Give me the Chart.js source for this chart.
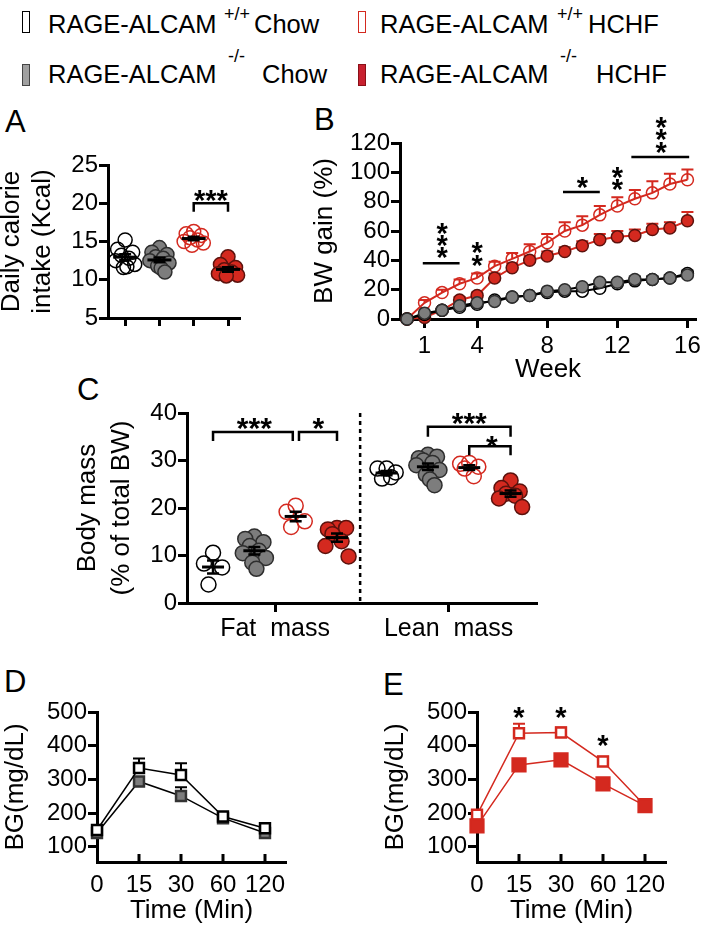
<!DOCTYPE html>
<html>
<head>
<meta charset="utf-8">
<script src="https://cdn.jsdelivr.net/npm/chart.js@4.4.1/dist/chart.umd.min.js"></script>
<style>
body { margin: 0; background: #fff; }
#fig { position: relative; width: 705px; height: 926px; overflow: hidden; font-family: "Liberation Sans", Arial, Helvetica, sans-serif; color: #000; }
.c { position: absolute; }
.letter { position: absolute; font-size: 31px; line-height: 1; }
.leg { position: absolute; font-size: 25.5px; line-height: 1; white-space: nowrap; }
.sup { position: absolute; font-size: 18px; line-height: 1; white-space: nowrap; }
.mk { position: absolute; width: 8px; height: 22px; box-sizing: border-box; border: 1.5px solid #000; }
</style>
</head>
<body>
<div id="fig">
  <!-- legend -->
  <div class="mk" style="left:22px;top:11px;background:#fff;border-color:#000"></div>
  <div class="leg" style="left:48px;top:12px">RAGE-ALCAM</div>
  <div class="sup" style="left:224px;top:5px">+/+</div>
  <div class="leg" style="left:254px;top:12px">Chow</div>
  <div class="mk" style="left:22px;top:64px;background:#a0a0a0;border-color:#444"></div>
  <div class="leg" style="left:48px;top:62px">RAGE-ALCAM</div>
  <div class="sup" style="left:228px;top:47px">-/-</div>
  <div class="leg" style="left:262px;top:62px">Chow</div>
  <div class="mk" style="left:358px;top:11px;background:#fff;border-color:#d4291f"></div>
  <div class="leg" style="left:380px;top:12px">RAGE-ALCAM</div>
  <div class="sup" style="left:557px;top:5px">+/+</div>
  <div class="leg" style="left:588px;top:12px">HCHF</div>
  <div class="mk" style="left:358px;top:64px;background:#c8202f;border-color:#8a1018"></div>
  <div class="leg" style="left:380px;top:62px">RAGE-ALCAM</div>
  <div class="sup" style="left:560px;top:47px">-/-</div>
  <div class="leg" style="left:596px;top:62px">HCHF</div>

  <div class="letter" style="left:5px;top:106px">A</div>
  <div class="letter" style="left:314px;top:104px">B</div>
  <div class="letter" style="left:77px;top:374px">C</div>
  <div class="letter" style="left:4px;top:666px">D</div>
  <div class="letter" style="left:383px;top:669px">E</div>

  <canvas id="cA" class="c" width="254" height="210" style="left:-4px;top:140px"></canvas>
  <canvas id="cB" class="c" width="405" height="275" style="left:300px;top:110px"></canvas>
  <canvas id="cC" class="c" width="480" height="272" style="left:70px;top:378px"></canvas>
  <canvas id="cD" class="c" width="300" height="236" style="left:0px;top:690px"></canvas>
  <canvas id="cE" class="c" width="300" height="236" style="left:380px;top:690px"></canvas>
</div>
<script>
// A: daily calorie intake (Kcal), one value per mouse
const intakeWTChow = [15.2, 14.0, 13.6, 13.2, 12.8, 12.5, 12.0, 11.6, 11.7];
const intakeKOChow = [14.2, 13.6, 13.3, 13.0, 12.8, 12.5, 12.2, 11.8, 11.5, 11.0];
const intakeWTHCHF = [16.3, 16.0, 15.8, 15.5, 15.2, 15.0, 14.8, 14.5];
const intakeKOHCHF = [13.0, 12.0, 11.6, 11.3, 11.0, 10.8, 10.6, 10.5];
const intakeTicks = [5, 10, 15, 20, 25];

// B: body weight gain (%) per week
const weeks = [0, 1, 2, 3, 4, 5, 6, 7, 8, 9, 10, 11, 12, 13, 14, 15, 16];
const bwWTChow = [0, 3, 6, 8, 10, 13, 15, 16, 18, 19, 19, 21, 24, 26, 27, 28, 31];
const bwKOChow = [0, 4, 6, 9, 11, 12, 15, 16, 19, 20, 22, 25, 25, 27, 27, 28, 30];
const bwWTHCHF = [0, 11, 18, 24, 28, 36, 41, 46, 52, 60, 64, 71, 77, 82, 86, 92, 95];
const bwKOHCHF = [0, 1, 6, 13, 16, 28, 35, 40, 43, 46, 50, 54, 56, 57, 61, 62, 67];
const bwSemWTChow = [0, 1, 1, 1, 1, 1, 1, 1, 1, 1, 1, 1, 1, 2, 2, 2, 2];
const bwSemKOChow = [0, 1, 1, 1, 1, 1, 1, 1, 1, 1, 1, 1, 1, 2, 2, 2, 2];
const bwSemWTHCHF = [0, 2, 2, 3, 3, 3, 4, 5, 6, 6, 6, 6, 6, 6, 8, 7, 7];
const bwSemKOHCHF = [0, 1, 1, 2, 2, 3, 3, 3, 3, 3, 3, 4, 4, 4, 4, 4, 6];
const weekTicks = [1, 4, 8, 12, 16];
const bwTicks = [0, 20, 40, 60, 80, 100, 120];

// C: body composition (% of total BW)
const fatWTChow = [10.6, 8.3, 7.5, 3.9];
const fatKOChow = [14.0, 13.5, 12.8, 12.0, 11.0, 10.5, 9.5, 8.5, 7.2];
const fatWTHCHF = [20.5, 19.2, 17.2, 16.0];
const fatKOHCHF = [15.8, 15.5, 15.8, 14.5, 13.0, 12.0, 9.8];
const leanWTChow = [28.3, 28.3, 27.5, 26.2, 26.5];
const leanKOChow = [31.2, 30.5, 30.8, 30.0, 29.5, 29.0, 28.0, 27.0, 26.0, 24.8];
const leanWTHCHF = [29.5, 29.3, 28.7, 28.3, 26.7];
const leanKOHCHF = [25.8, 24.2, 23.5, 23.0, 22.6, 22.0, 20.2];
const massTicks = [0, 10, 20, 30, 40];
const massLabels = ['Fat  mass', 'Lean  mass'];

// D, E: glucose tolerance, BG (mg/dL)
const gttTimes = ['0', '15', '30', '60', '120'];
const gttWTChow = [150, 334, 313, 190, 155];
const gttKOChow = [141, 294, 251, 185, 141];
const gttWTHCHF = [195, 437, 439, 353, 222];
const gttKOHCHF = [162, 343, 358, 287, 222];
const gttSemWTChow = [10, 28, 35, 10, 8];
const gttSemKOChow = [8, 10, 26, 8, 8];
const gttSemWTHCHF = [10, 28, 15, 14, 10];
const gttSemKOHCHF = [10, 12, 15, 10, 10];
const bgTicks = [100, 200, 300, 400, 500];

const RED = '#d4291f';
const GRAY = '#7d7d7d';
const FONT = '"Liberation Sans", Arial, Helvetica, sans-serif';

Chart.defaults.font.family = FONT;
Chart.defaults.color = '#000';
Chart.defaults.animation = false;
Chart.defaults.plugins.legend.display = false;
Chart.defaults.plugins.tooltip.enabled = false;

function meanSem(v) {
    const n = v.length;
    const m = v.reduce((a, b) => a + b, 0) / n;
    const sd = Math.sqrt(v.reduce((a, b) => a + (b - m) * (b - m), 0) / (n - 1));
    return [m, sd / Math.sqrt(n)];
}

// spread of the dots around the group centre
const jit = [0, -0.22, 0.22, -0.11, 0.11, -0.28, 0.28, -0.05, 0.05, 0.16];
function swarm(vals, cx) {
    return vals.map((v, i) => ({ x: cx + jit[i % jit.length], y: v }));
}
function series(xs, ys) {
    return ys.map((v, i) => ({ x: xs[i], y: v }));
}

function yAxis(tickVals, min, max, w, title, pad, lh) {
    return {
        type: 'linear', position: 'left', min: min, max: max,
        afterBuildTicks: s => { s.ticks = tickVals.map(v => ({ value: v })); },
        afterFit: s => { s.width = w; },
        border: { color: '#000', width: 3 },
        grid: { drawOnChartArea: false, tickLength: 9, tickWidth: 3, tickColor: '#000' },
        ticks: { font: { size: 24 }, color: '#000', padding: 1, autoSkip: false },
        title: { display: true, text: title, color: '#000', font: { size: 26, lineHeight: lh || 1.2 }, padding: { top: pad, bottom: 0 } }
    };
}

function xAxis(tickVals, labels, min, max, h, opt) {
    opt = opt || {};
    return {
        type: 'linear', position: 'bottom', min: min, max: max,
        afterBuildTicks: s => { s.ticks = tickVals.map(v => ({ value: v })); },
        afterFit: s => { s.height = h; },
        border: { color: '#000', width: 3 },
        grid: { drawOnChartArea: false, drawTicks: opt.drawTicks !== false, tickLength: opt.tickLength || 9, tickWidth: 3, tickColor: '#000' },
        ticks: {
            font: { size: opt.fontSize || 24 }, color: '#000', padding: opt.padding || 4,
            autoSkip: false, maxRotation: 0, minRotation: 0,
            callback: (v, i) => labels ? labels[i] : ''
        },
        title: opt.title ? { display: true, text: opt.title, color: '#000', font: { size: 26 }, padding: { top: 0, bottom: 0 } } : { display: false }
    };
}

function drawStar(ctx, txt, px, py, size) {
    ctx.font = 'bold ' + size + 'px ' + FONT;
    ctx.textAlign = 'center';
    ctx.textBaseline = 'alphabetic';
    ctx.fillText(txt, px, py + 0.6 * size);
}

// error bars, means, brackets and stars drawn through the chart scales
function decor(spec) {
    return {
        id: 'decor',
        beforeDatasetsDraw(chart) {
            const ctx = chart.ctx, x = chart.scales.x, y = chart.scales.y;
            ctx.save();
            if (spec.dashX !== undefined) {
                const px = x.getPixelForValue(spec.dashX);
                ctx.strokeStyle = '#000';
                ctx.lineWidth = 2.5;
                ctx.setLineDash([4, 4]);
                ctx.beginPath();
                ctx.moveTo(px, y.getPixelForValue(y.max));
                ctx.lineTo(px, y.getPixelForValue(y.min));
                ctx.stroke();
                ctx.setLineDash([]);
            }
            (spec.errUp || []).forEach(e => {
                const pts = chart.data.datasets[e.ds].data;
                ctx.strokeStyle = e.color;
                ctx.lineWidth = 2;
                pts.forEach((p, i) => {
                    const s = e.sem[i];
                    if (!s) return;
                    const px = x.getPixelForValue(p.x);
                    const py = y.getPixelForValue(p.y);
                    const pt = y.getPixelForValue(p.y + s);
                    ctx.beginPath();
                    ctx.moveTo(px, py); ctx.lineTo(px, pt);
                    ctx.moveTo(px - e.cap, pt); ctx.lineTo(px + e.cap, pt);
                    ctx.stroke();
                });
            });
            ctx.restore();
        },
        afterDatasetsDraw(chart) {
            const ctx = chart.ctx, x = chart.scales.x, y = chart.scales.y;
            ctx.save();
            ctx.strokeStyle = '#000';
            ctx.fillStyle = '#000';
            (spec.means || []).forEach(g => {
                const ms = meanSem(g.vals);
                const px = x.getPixelForValue(g.x);
                const pm = y.getPixelForValue(ms[0]);
                const p1 = y.getPixelForValue(ms[0] + ms[1]);
                const p2 = y.getPixelForValue(ms[0] - ms[1]);
                ctx.lineWidth = 3;
                ctx.beginPath();
                ctx.moveTo(px - spec.meanW, pm); ctx.lineTo(px + spec.meanW, pm);
                ctx.stroke();
                ctx.lineWidth = 2.5;
                ctx.beginPath();
                ctx.moveTo(px, p1); ctx.lineTo(px, p2);
                ctx.moveTo(px - spec.capW, p1); ctx.lineTo(px + spec.capW, p1);
                ctx.moveTo(px - spec.capW, p2); ctx.lineTo(px + spec.capW, p2);
                ctx.stroke();
            });
            ctx.lineWidth = 2.5;
            (spec.brackets || []).forEach(b => {
                const x1 = x.getPixelForValue(b.x1), x2 = x.getPixelForValue(b.x2);
                const yt = y.getPixelForValue(b.y), yb = y.getPixelForValue(b.y - b.drop);
                ctx.beginPath();
                ctx.moveTo(x1, yb); ctx.lineTo(x1, yt); ctx.lineTo(x2, yt); ctx.lineTo(x2, yb);
                ctx.stroke();
            });
            (spec.bars || []).forEach(b => {
                const yy = y.getPixelForValue(b.y);
                ctx.beginPath();
                ctx.moveTo(x.getPixelForValue(b.x1), yy); ctx.lineTo(x.getPixelForValue(b.x2), yy);
                ctx.stroke();
            });
            (spec.stars || []).forEach(s => {
                drawStar(ctx, s.t || '*', x.getPixelForValue(s.x), y.getPixelForValue(s.y), spec.starSize || 28);
            });
            if (spec.innerTicks) {
                const yb = chart.chartArea.bottom;
                ctx.lineWidth = 3;
                spec.innerTicks.forEach(v => {
                    const px = x.getPixelForValue(v);
                    ctx.beginPath(); ctx.moveTo(px, yb); ctx.lineTo(px, yb - 8); ctx.stroke();
                });
            }
            ctx.restore();
        }
    };
}

const styWTChow = { borderColor: '#000', backgroundColor: 'rgba(255,255,255,0)' };
const styKOChow = { borderColor: '#2e2e2e', backgroundColor: GRAY };
const styWTHCHF = { borderColor: RED, backgroundColor: 'rgba(255,255,255,0)' };
const styKOHCHF = { borderColor: '#5c120d', backgroundColor: RED };

function dots(vals, cx, sty, r) {
    return {
        data: swarm(vals, cx), pointRadius: r, pointBorderWidth: 1.5,
        pointBorderColor: sty.borderColor, pointBackgroundColor: sty.backgroundColor, clip: false
    };
}

// ---------- A ----------
new Chart(document.getElementById('cA'), {
    type: 'scatter',
    data: { datasets: [
        dots(intakeWTChow, 1, styWTChow, 7),
        dots(intakeKOChow, 2, styKOChow, 7),
        dots(intakeWTHCHF, 3, styWTHCHF, 7),
        dots(intakeKOHCHF, 4, styKOHCHF, 7)
    ] },
    options: {
        responsive: false, devicePixelRatio: 1,
        layout: { padding: { top: 25, right: 10, bottom: 0, left: 0 } },
        scales: {
            x: xAxis([1, 2, 3, 4], null, 0.5, 4.35, 32, { tickLength: 8 }),
            y: yAxis(intakeTicks, 5, 25, 112, ['Daily calorie', 'intake (Kcal)'], 0)
        }
    },
    plugins: [decor({
        meanW: 12, capW: 6,
        means: [
            { x: 1, vals: intakeWTChow }, { x: 2, vals: intakeKOChow },
            { x: 3, vals: intakeWTHCHF }, { x: 4, vals: intakeKOHCHF }
        ],
        brackets: [{ x1: 3, x2: 4, y: 20, drop: 1.1 }],
        stars: [{ x: 3.5, y: 21.4, t: '***' }],
        starSize: 29
    })]
});

// ---------- B ----------
function lineDs(vals, sty, lineColor, r, style) {
    return {
        data: series(weeks.length === vals.length ? weeks : [0, 1, 2, 3, 4], vals),
        borderColor: lineColor, borderWidth: 2, tension: 0,
        pointRadius: r, pointBorderWidth: style === 'rect' ? 2.5 : 1.5, pointStyle: style || 'circle',
        pointBorderColor: sty.borderColor, pointBackgroundColor: sty.backgroundColor, clip: false
    };
}

new Chart(document.getElementById('cB'), {
    type: 'line',
    data: { datasets: [
        lineDs(bwKOChow, styKOChow, '#000', 6),
        lineDs(bwWTChow, styWTChow, '#000', 6),
        lineDs(bwKOHCHF, styKOHCHF, RED, 6),
        lineDs(bwWTHCHF, styWTHCHF, RED, 6)
    ] },
    options: {
        responsive: false, devicePixelRatio: 1,
        layout: { padding: { top: 33, right: 4, bottom: 0, left: 0 } },
        scales: {
            x: xAxis(weekTicks, weekTicks.map(String), -0.4, 16.5, 66, { tickLength: 9, padding: 4, title: 'Week' }),
            y: yAxis(bwTicks, 0, 120, 100, 'BW gain (%)', 9)
        }
    },
    plugins: [decor({
        errUp: [
            { ds: 0, sem: bwSemKOChow, color: '#000', cap: 6 },
            { ds: 1, sem: bwSemWTChow, color: '#000', cap: 6 },
            { ds: 2, sem: bwSemKOHCHF, color: RED, cap: 6 },
            { ds: 3, sem: bwSemWTHCHF, color: RED, cap: 6 }
        ],
        bars: [{ x1: 0.9, x2: 3.0, y: 38 }, { x1: 8.9, x2: 11.0, y: 86.6 }, { x1: 12.8, x2: 16.1, y: 110.5 }],
        stars: [
            { x: 2, y: 47 }, { x: 2, y: 55.5 }, { x: 2, y: 64 },
            { x: 4, y: 42 }, { x: 4, y: 50.5 },
            { x: 10, y: 95 },
            { x: 12, y: 93.5 }, { x: 12, y: 102 },
            { x: 14.5, y: 119 }, { x: 14.5, y: 127.5 }, { x: 14.5, y: 136 }
        ],
        starSize: 29
    })]
});

// ---------- C ----------
const fatX = [1, 2, 3, 4];
const leanX = [5.2, 6.2, 7.2, 8.2];
new Chart(document.getElementById('cC'), {
    type: 'scatter',
    data: { datasets: [
        dots(fatWTChow, fatX[0], styWTChow, 7.5),
        dots(fatKOChow, fatX[1], styKOChow, 7.5),
        dots(fatWTHCHF, fatX[2], styWTHCHF, 7.5),
        dots(fatKOHCHF, fatX[3], styKOHCHF, 7.5),
        dots(leanWTChow, leanX[0], styWTChow, 7.5),
        dots(leanKOChow, leanX[1], styKOChow, 7.5),
        dots(leanWTHCHF, leanX[2], styWTHCHF, 7.5),
        dots(leanKOHCHF, leanX[3], styKOHCHF, 7.5)
    ] },
    options: {
        responsive: false, devicePixelRatio: 1,
        layout: { padding: { top: 35, right: 13, bottom: 0, left: 0 } },
        scales: {
            x: xAxis([2.5, 6.7], massLabels, 0.37, 8.84, 47, { tickLength: 9, padding: 2, fontSize: 25 }),
            y: yAxis(massTicks, 0, 40, 117, ['Body mass', '(% of total BW)'], 1, 1.3)
        }
    },
    plugins: [decor({
        meanW: 11, capW: 6,
        dashX: 4.56,
        means: [
            { x: fatX[0], vals: fatWTChow }, { x: fatX[1], vals: fatKOChow },
            { x: fatX[2], vals: fatWTHCHF }, { x: fatX[3], vals: fatKOHCHF },
            { x: leanX[0], vals: leanWTChow }, { x: leanX[1], vals: leanKOChow },
            { x: leanX[2], vals: leanWTHCHF }, { x: leanX[3], vals: leanKOHCHF }
        ],
        brackets: [
            { x1: 1, x2: 2.93, y: 36, drop: 1.9 },
            { x1: 3.08, x2: 4, y: 36, drop: 1.9 },
            { x1: 6.2, x2: 8.2, y: 37.1, drop: 2.1 },
            { x1: 7.2, x2: 8.2, y: 33, drop: 1.9 }
        ],
        stars: [
            { x: 2, y: 38.6, t: '***' }, { x: 3.55, y: 38.6 },
            { x: 7.2, y: 39.6, t: '***' }, { x: 7.75, y: 34.8 }
        ],
        starSize: 30
    })]
});

// ---------- D, E ----------
const timeX = [0, 1, 2, 3, 4];
const styOpenSq = { borderColor: '#000', backgroundColor: '#fff' };
const styOpenRedSq = { borderColor: RED, backgroundColor: '#fff' };

function gttChart(id, dsets, errs, stars) {
    return new Chart(document.getElementById(id), {
        type: 'line',
        data: { datasets: dsets },
        options: {
            responsive: false, devicePixelRatio: 1,
            layout: { padding: { top: 22, right: 14, bottom: 0, left: 0 } },
            scales: {
                x: xAxis(timeX, gttTimes, 0, 4.5, 64, { drawTicks: false, padding: 9, title: 'Time (Min)' }),
                y: yAxis(bgTicks, 55, 500, 97, 'BG(mg/dL)', 0)
            }
        },
        plugins: [decor({ errUp: errs, stars: stars, starSize: 29, innerTicks: [1, 2, 3, 4] })]
    });
}

function sqDs(vals, sty, lineColor, r) {
    const d = lineDs(vals, sty, lineColor, r, 'rect');
    d.borderWidth = 1.5;
    return d;
}

gttChart('cD', [
    sqDs(gttWTChow, styOpenSq, '#000', 7),
    sqDs(gttKOChow, { borderColor: '#333', backgroundColor: GRAY }, '#000', 7)
], [
    { ds: 0, sem: gttSemWTChow, color: '#000', cap: 6 },
    { ds: 1, sem: gttSemKOChow, color: '#000', cap: 6 }
], []);

gttChart('cE', [
    sqDs(gttKOHCHF, { borderColor: RED, backgroundColor: RED }, RED, 9),
    sqDs(gttWTHCHF, styOpenRedSq, RED, 7)
], [
    { ds: 0, sem: gttSemKOHCHF, color: RED, cap: 6 },
    { ds: 1, sem: gttSemWTHCHF, color: RED, cap: 6 }
], [{ x: 1, y: 506 }, { x: 2, y: 506 }, { x: 3, y: 423 }]);
</script>
</body>
</html>
